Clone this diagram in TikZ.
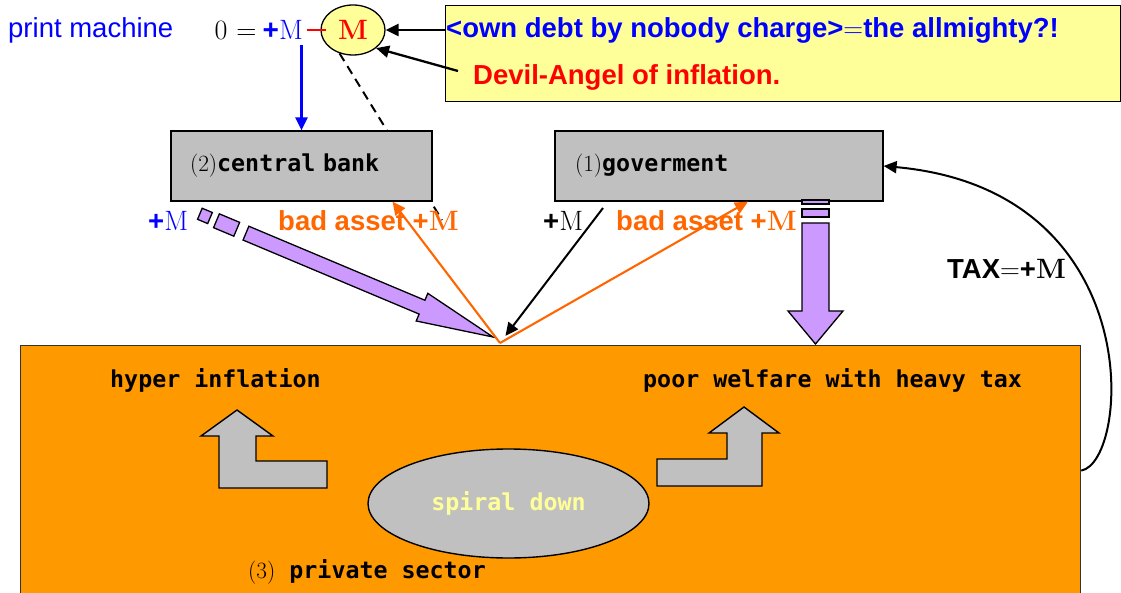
\documentclass[tikz,border=0pt]{standalone}
\usepackage{fontspec}
\setsansfont{Liberation Sans}
\setmonofont{DejaVu Sans Mono}
\usetikzlibrary{arrows.meta,calc,shapes.geometric}

\definecolor{boxgray}{RGB}{192,192,192}
\definecolor{notey}{RGB}{255,255,153}
\definecolor{lilac}{RGB}{204,153,255}
\definecolor{sector}{RGB}{255,153,0}
\definecolor{asset}{RGB}{255,102,0}

\newcommand{\bigM}{{\rmfamily\fontsize{28}{30}\selectfont M}}
\newcommand{\plusM}{{\sffamily\bfseries +}\bigM}
\newcommand{\gothic}[2]{{\rmfamily #1}{\ttfamily\bfseries #2}}

\begin{document}
\begin{tikzpicture}[
		x=1pt, y=-1pt,
		lbl/.style={inner sep=0pt},
		sans/.style={lbl, font=\sffamily\fontsize{27.5}{30}\selectfont},
		mono/.style={lbl, font=\fontsize{23.3}{26}\selectfont},
		box/.style={draw=black, line width=1.2pt, fill=boxgray, align=left,
				font=\fontsize{23.3}{26}\selectfont},
		purp/.style={draw=black, line width=1.3pt, fill=lilac},
		bent/.style={draw=black, line width=1.4pt, fill=boxgray},
		arr/.style={line width=2.3pt, -{Triangle[length=13pt,width=12pt]}},
		oarr/.style={asset, line width=2.1pt, -{Triangle[length=13pt,width=12pt]}}
	]
	\useasboundingbox (0,0) rectangle (1121,593);

	% top row
	\node[sans, blue, anchor=west] (pm) at (8,30) {print machine};
	\node[lbl, anchor=east, font=\fontsize{28}{30}\selectfont] (eq) at (303,30)
		{0\hspace{9pt}=\hspace{6pt}\textcolor{blue}{\plusM}};
	\node[ellipse, draw=black, line width=1.3pt, fill=notey, minimum width=64,
		minimum height=50, inner sep=0pt, text=red, font=\bfseries] (mm) at (353,30) {\bigM};
	\draw[red, line width=1.8pt, shorten <=4pt] (eq.east) -- ([xshift=6pt]mm.west);

	\node[draw=black, line width=1.2pt, fill=notey, minimum width=675, minimum height=96,
		anchor=north west] (note) at (445,5) {};
	\node[sans, font=\sffamily\bfseries\fontsize{27.5}{30}\selectfont, blue, anchor=west]
		(debt) at (446,30) {<own debt by nobody charge>{\rmfamily\mdseries =}the allmighty?!};
	\node[sans, font=\sffamily\bfseries\fontsize{27.5}{30}\selectfont, red, anchor=west]
		(devil) at (473,77) {Devil-Angel of inflation.};
	\coordinate (devtail) at (458,71);
	\draw[arr] (note.west |- mm.east) -- (mm.east);
	\draw[arr] (devtail) -- (mm.south east);

	% banks
	\draw[line width=2pt, dash pattern=on 9pt off 6pt] (mm.-120) -- (442,220);
	\node[box, minimum width=261, minimum height=70, text width=223, inner xsep=19pt]
		(cb) at (301.5,166) {\gothic{(2)}{central bank}};
	\node[box, minimum width=328, minimum height=70, text width=288, inner xsep=20pt]
		(gov) at (719,166) {\gothic{(1)}{goverment}};
	\draw[arr, blue] (mm.west -| cb.north) ++(0,15) coordinate (pmout) -- (cb.north);

	% private sector
	\node[draw=black!80, line width=1.2pt, fill=sector, minimum width=1060, minimum height=250,
		anchor=north west] (ps) at (20,345) {};
	\node[mono, anchor=west] (hyper) at (110,380) {\ttfamily\bfseries hyper inflation};
	\node[mono, anchor=west] (poor) at (643,380) {\ttfamily\bfseries poor welfare with heavy tax};
	\node[ellipse, draw=black, line width=1.4pt, fill=boxgray, minimum width=281,
		minimum height=109, text=notey, font=\ttfamily\bfseries\fontsize{23.3}{26}\selectfont]
		(spiral) at (508.5,503.5) {spiral down};
	\node[mono, anchor=west] (priv) at (248,572) {\gothic{(3)}{ private sector}};

	\draw[bent] (201,436) -- (237,410) -- (273,436) -- (256,436) -- (256,461) -- (327,461)
		-- (327,488) -- (219,488) -- (219,436) -- cycle;
	\draw[bent] (657,459) -- (727,459) -- (727,433) -- (709,433) -- (744,407) -- (779,433)
		-- (762,433) -- (762,486) -- (657,486) -- cycle;

	% flows
	\coordinate (hit) at (500,343);
	\coordinate (govm) at (603,208);
	\begin{scope}[shift={(493,337)}, rotate=-22.8]
		\draw[purp] (-318,-6) -- (-307,-6) -- (-307,6) -- (-318,6) -- cycle;
		\draw[purp] (-300,-7.5) -- (-278,-7.5) -- (-278,7.5) -- (-300,7.5) -- cycle;
		\draw[purp] (-268,-7.5) -- (-77,-7.5) -- (-77,-15) -- (0,0) -- (-77,15) -- (-77,7.5)
			-- (-268,7.5) -- cycle;
	\end{scope}
	\draw[purp] (802,200) rectangle (829,204);
	\draw[purp] (802,209) rectangle (829,217);
	\draw[purp] (802,223) -- (829,223) -- (829,311) -- (843,311) -- (815.5,344) -- (788,311)
		-- (802,311) -- cycle;

	\draw[oarr] (hit) -- ($(cb.south west)!0.847!(cb.south east)$);
	\draw[oarr] (hit) -- ($(gov.south west)!0.588!(gov.south east)$);
	\draw[arr, line width=2pt, shorten >=9pt] (govm) -- (hit);

	\node[sans, blue, anchor=west] (mcb) at (148,221) {\plusM};
	\node[sans, asset, anchor=west] (bacb) at (278,221) {\bfseries bad asset \plusM};
	\node[sans, anchor=west] (mgov) at (543,221) {\plusM};
	\node[sans, asset, anchor=west] (bagov) at (616,221) {\bfseries bad asset \plusM};
	\node[sans, anchor=west] (tax) at (947,269) {\bfseries TAX{\rmfamily\mdseries =}\plusM};

	\draw[arr, line width=2pt] (ps.east) .. controls (1130,462) and (1150,190) .. (gov.east);
\end{tikzpicture}
\end{document}
